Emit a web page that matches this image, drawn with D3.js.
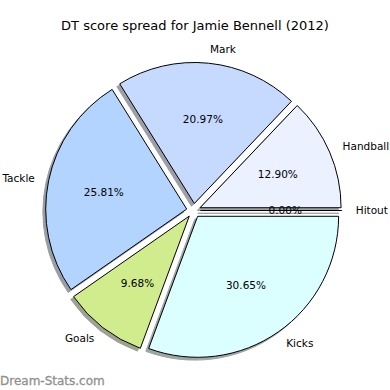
<!DOCTYPE html>
<html>
<head>
<meta charset="utf-8">
<script src="https://cdn.jsdelivr.net/npm/d3@7"></script>
<style>
  body { margin: 0; background: #fff; }
  text { font-family: "DejaVu Sans", sans-serif; fill: #000; }
</style>
</head>
<body>
<div id="chart"></div>
<script>
(() => {
  const width = 390;
  const height = 390;

  // Data
  const categories = ["Hitout", "Handball", "Mark", "Tackle", "Goals", "Kicks"];
  const values = [0, 8, 13, 16, 6, 19];
  const colors = ["#e0e8ff", "#ebf1ff", "#c6d9ff", "#b3d4ff", "#d0ec8c", "#dbffff"];

  const cx = 193.6;
  const cy = 210.5;
  const radius = 141;
  const explode = 0.05 * radius;
  const shadowOff = 0.02 * radius;

  const svg = d3
    .select("#chart")
    .append("svg")
    .attr("width", width)
    .attr("height", height);

  svg
    .append("text")
    .attr("x", 195)
    .attr("y", 30)
    .attr("font-size", "13px")
    .attr("text-anchor", "middle")
    .text("DT score spread for Jamie Bennell (2012)");

  // matplotlib style: start at 3 o'clock, go counterclockwise
  const pie = d3
    .pie()
    .sort(null)
    .value((d) => d.value)
    .startAngle(Math.PI / 2)
    .endAngle(Math.PI / 2 - 2 * Math.PI);

  const data = categories.map((c, i) => ({ name: c, value: values[i], color: colors[i] }));
  const arcs = pie(data);
  const total = d3.sum(values);

  const arc = d3.arc().innerRadius(0).outerRadius(radius);

  const mid = (d) => (d.startAngle + d.endAngle) / 2;
  const pos = (d, dist) => [Math.sin(mid(d)) * dist, -Math.cos(mid(d)) * dist];
  const shade = (d) => {
    const c = d3.rgb(d.data.color);
    return d3.rgb(c.r * 0.3, c.g * 0.3, c.b * 0.3);
  };

  const g = svg.append("g").attr("transform", `translate(${cx}, ${cy})`);

  // shadows first, under all wedges
  g.append("g")
    .selectAll("path")
    .data(arcs)
    .join("path")
    .attr("transform", (d) => {
      const [x, y] = pos(d, explode);
      return `translate(${x - shadowOff}, ${y + shadowOff})`;
    })
    .attr("d", arc)
    .attr("fill", shade)
    .attr("stroke", shade)
    .attr("stroke-width", 1)
    .attr("opacity", 0.5);

  g.append("g")
    .selectAll("path")
    .data(arcs)
    .join("path")
    .attr("transform", (d) => `translate(${pos(d, explode)})`)
    .attr("d", arc)
    .attr("fill", (d) => d.data.color)
    .attr("stroke", "#000")
    .attr("stroke-width", 1);

  // labels
  g.append("g")
    .selectAll("text")
    .data(arcs)
    .join("text")
    .attr("x", (d) => pos(d, explode + radius * 1.1)[0])
    .attr("y", (d) => pos(d, explode + radius * 1.1)[1])
    .attr("dy", "0.35em")
    .attr("font-size", "10.5px")
    .attr("text-anchor", (d) => (pos(d, 1)[0] > 0 ? "start" : "end"))
    .text((d) => d.data.name);

  g.append("g")
    .selectAll("text")
    .data(arcs)
    .join("text")
    .attr("x", (d) => pos(d, explode + radius * 0.6)[0])
    .attr("y", (d) => pos(d, explode + radius * 0.6)[1])
    .attr("dy", "0.35em")
    .attr("font-size", "10.5px")
    .attr("text-anchor", "middle")
    .text((d) => d3.format(".2f")((d.data.value / total) * 100) + "%");

  svg
    .append("text")
    .attr("x", 0)
    .attr("y", 385)
    .attr("font-size", "12px")
    .style("fill", "#909090")
    .style("stroke", "#909090")
    .style("stroke-width", 0.3)
    .text("Dream-Stats.com");
})();
</script>
</body>
</html>
